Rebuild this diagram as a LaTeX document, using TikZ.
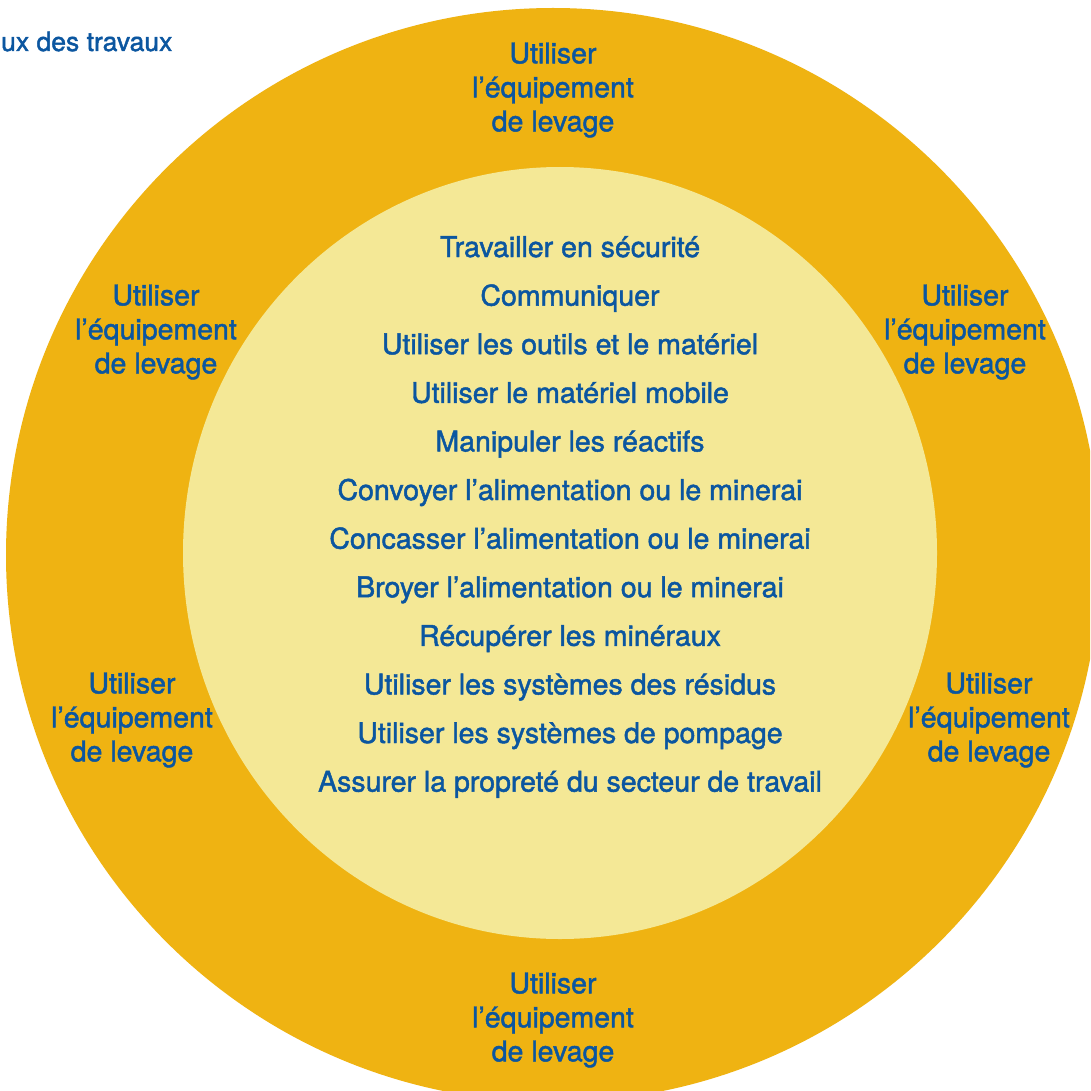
\documentclass[tikz,border=0pt]{standalone}
\usepackage{fontspec}
\setmainfont{TeX Gyre Heros}[FakeBold=1.6]
\usepackage{tikz}
\definecolor{color_ring_outer}{HTML}{EFB312}
\definecolor{color_ring_inner}{HTML}{F4E896}
\definecolor{color_label_text}{HTML}{0B56A0}
\def\reservedspace{\fill[white] (0,0) rectangle (1090,1091);}

\begin{document}
\begin{tikzpicture}[x=1pt, y=-1pt,
        levage/.style={align=center, text=color_label_text, inner sep=0pt, font=\fontsize{28.5}{34}\selectfont},
        task/.style={anchor=base, text=color_label_text, inner sep=0pt, font=\fontsize{28.5}{34}\selectfont}]
            \useasboundingbox (0,0) rectangle (1090,1091);
            \reservedspace
            \clip (0,0) rectangle (1090,1091);
            % rings
            \fill[color_ring_outer] (553,555) circle [radius=547];
            \fill[color_ring_inner] (560,553) ellipse [x radius=377, y radius=386];
            % title at the left edge
            \node[anchor=base west, text=color_label_text, inner sep=0pt, font=\fontsize{26.5}{32}\selectfont] (title) at (1,51) {ux des travaux};
            % outer ring labels
            \node[levage] (lev_top) at (553,90) {Utiliser\\l’équipement\\de levage};
            \node[levage] (lev_topleft) at (156,332) {Utiliser\\l’équipement\\de levage};
            \node[levage] (lev_topright) at (965,332) {Utiliser\\l’équipement\\de levage};
            \node[levage] (lev_botleft) at (132,720) {Utiliser\\l’équipement\\de levage};
            \node[levage] (lev_botright) at (989,720) {Utiliser\\l’équipement\\de levage};
            \node[levage] (lev_bot) at (553,1020) {Utiliser\\l’équipement\\de levage};
            % inner list of tasks
            \foreach \t [count=\i] in {Travailler en sécurité, Communiquer, Utiliser les outils et le matériel,
                    Utiliser le matériel mobile, Manipuler les réactifs, Convoyer l’alimentation ou le minerai,
                    Concasser l’alimentation ou le minerai, Broyer l’alimentation ou le minerai,
                    Récupérer les minéraux, Utiliser les systèmes des résidus, Utiliser les systèmes de pompage,
                    Assurer la propreté du secteur de travail}
                \node[task] (task\i) at (570,{257+(\i-1)*48.6}) {\t};
        \end{tikzpicture}
\end{document}
